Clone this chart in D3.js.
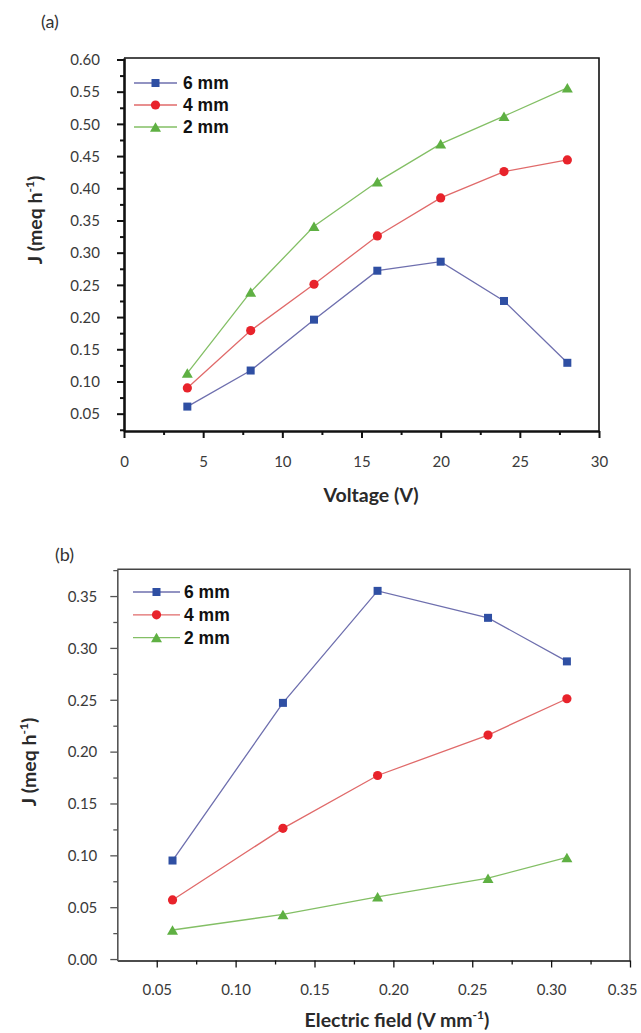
<!DOCTYPE html>
<html>
<head>
<meta charset="utf-8">
<script src="https://cdn.jsdelivr.net/npm/d3@7"></script>
<style>
  html, body { margin: 0; padding: 0; background: #fff; }
  svg { display: block; }
  .tick-label { font-family: Lato, "Open Sans", sans-serif; font-size: 15px; fill: #3a3a3a; }
  .axis-title { font-family: Lato, "Open Sans", sans-serif; font-weight: bold; font-size: 19.5px; fill: #2a2a2a; }
  .legend-text { font-family: "Liberation Sans", Arial, sans-serif; font-weight: bold; font-size: 17.5px; fill: #111; }
  .panel-label { font-family: Lato, "Open Sans", sans-serif; font-size: 18px; fill: #333; }
</style>
</head>
<body>
<svg id="chart" width="641" height="1033"></svg>
<script>
// Flux J versus applied voltage, for three electrode gaps
const voltage = [4, 8, 12, 16, 20, 24, 28];
const voltJ6mm = [0.061, 0.117, 0.196, 0.272, 0.286, 0.225, 0.129];
const voltJ4mm = [0.090, 0.179, 0.251, 0.326, 0.385, 0.426, 0.444];
const voltJ2mm = [0.113, 0.239, 0.341, 0.410, 0.469, 0.512, 0.556];

// Flux J versus electric field strength
const field = [0.06, 0.13, 0.19, 0.26, 0.31];
const fieldJ6mm = [0.095, 0.247, 0.355, 0.329, 0.287];
const fieldJ4mm = [0.057, 0.126, 0.177, 0.216, 0.251];
const fieldJ2mm = [0.028, 0.043, 0.060, 0.078, 0.098];

const seriesNames = ["6 mm", "4 mm", "2 mm"];
const voltXTicks = [0, 5, 10, 15, 20, 25, 30];
const voltYTicks = [0.05, 0.10, 0.15, 0.20, 0.25, 0.30, 0.35, 0.40, 0.45, 0.50, 0.55, 0.60];
const fieldXTicks = [0.05, 0.10, 0.15, 0.20, 0.25, 0.30, 0.35];
const fieldYTicks = [0.00, 0.05, 0.10, 0.15, 0.20, 0.25, 0.30, 0.35];

const styles = [
  { marker: "square",   fill: "#2f4fa3", stroke: "#6e6fae" },
  { marker: "circle",   fill: "#e8232b", stroke: "#e06a6a" },
  { marker: "triangle", fill: "#5fb043", stroke: "#83bf65" }
];

const svg = d3.select("#chart");

function drawMarker(g, kind, x, y, fill) {
  if (kind === "square") {
    g.append("rect").attr("x", x - 4).attr("y", y - 4).attr("width", 8).attr("height", 8).attr("fill", fill);
  } else if (kind === "circle") {
    g.append("circle").attr("cx", x).attr("cy", y).attr("r", 4.6).attr("fill", fill);
  } else {
    const w = 11, h = 9.5;
    g.append("path")
      .attr("d", `M${x},${y - h / 2}L${x + w / 2},${y + h / 2}L${x - w / 2},${y + h / 2}Z`)
      .attr("fill", fill);
  }
}

function drawPanel(cfg) {
  const g = svg.append("g");
  const x = d3.scaleLinear().domain(cfg.xDomain).range([cfg.left, cfg.right]);
  const y = d3.scaleLinear().domain(cfg.yDomain).range([cfg.bottom, cfg.top]);

  // frame (top and right edges)
  g.append("path")
    .attr("d", `M${cfg.left},${cfg.top}H${cfg.right}V${cfg.bottom}`)
    .attr("fill", "none").attr("stroke", cfg.frameColor).attr("stroke-width", cfg.frameWidth);

  // x axis: major ticks with labels, minor ticks between
  const xAxis = d3.axisBottom(x).tickValues(cfg.xTicks).tickSize(cfg.majorTick).tickSizeOuter(0)
    .tickFormat(cfg.xFormat);
  const xa = g.append("g").attr("transform", `translate(0,${cfg.bottom})`).call(xAxis);
  xa.select(".domain").attr("stroke", cfg.xAxisColor).attr("stroke-width", cfg.axisWidth);
  xa.selectAll(".tick line").attr("stroke", cfg.xAxisColor).attr("stroke-width", cfg.tickWidth);
  xa.selectAll(".tick text").attr("class", "tick-label").attr("y", cfg.xLabelOffset).attr("dy", 0);
  // keep the last label inside the page edge
  xa.selectAll(".tick:last-of-type text").attr("dx", cfg.lastLabelShift || 0);
  const xMinor = d3.axisBottom(x).tickValues(cfg.xMinor).tickSize(cfg.minorTick).tickSizeOuter(0).tickFormat("");
  const xm = g.append("g").attr("transform", `translate(0,${cfg.bottom})`).call(xMinor);
  xm.select(".domain").remove();
  xm.selectAll(".tick line").attr("stroke", cfg.xAxisColor).attr("stroke-width", cfg.tickWidth);

  // y axis
  const yAxis = d3.axisLeft(y).tickValues(cfg.yTicks).tickSize(cfg.majorTick).tickSizeOuter(0)
    .tickFormat(d3.format(".2f"));
  const ya = g.append("g").attr("transform", `translate(${cfg.left},0)`).call(yAxis);
  ya.select(".domain").attr("stroke", cfg.yAxisColor).attr("stroke-width", cfg.axisWidth);
  ya.selectAll(".tick line").attr("stroke", cfg.yAxisColor).attr("stroke-width", cfg.tickWidth);
  ya.selectAll(".tick text").attr("class", "tick-label").attr("x", -cfg.yLabelGap).attr("dy", "0.35em");
  const yMinor = d3.axisLeft(y).tickValues(cfg.yMinor).tickSize(cfg.minorTick).tickSizeOuter(0).tickFormat("");
  const ym = g.append("g").attr("transform", `translate(${cfg.left},0)`).call(yMinor);
  ym.select(".domain").remove();
  ym.selectAll(".tick line").attr("stroke", cfg.yAxisColor).attr("stroke-width", cfg.tickWidth);

  // lines and markers
  const line = d3.line().x(d => x(d[0])).y(d => y(d[1]));
  cfg.series.forEach((vals, i) => {
    const pts = cfg.xs.map((xv, k) => [xv, vals[k]]);
    g.append("path").datum(pts).attr("d", line)
      .attr("fill", "none").attr("stroke", styles[i].stroke).attr("stroke-width", 1.3);
  });
  cfg.series.forEach((vals, i) => {
    const mg = g.append("g");
    cfg.xs.forEach((xv, k) => drawMarker(mg, styles[i].marker, x(xv), y(vals[k]), styles[i].fill));
  });

  // legend
  seriesNames.forEach((name, i) => {
    const ly = cfg.legendY + i * cfg.legendStep;
    g.append("line").attr("x1", cfg.legendX0).attr("x2", cfg.legendX1).attr("y1", ly).attr("y2", ly)
      .attr("stroke", styles[i].stroke).attr("stroke-width", 1.3);
    drawMarker(g, styles[i].marker, (cfg.legendX0 + cfg.legendX1) / 2, ly, styles[i].fill);
    g.append("text").attr("class", "legend-text").attr("x", cfg.legendTextX).attr("y", ly + 6.3).text(name);
  });

  // axis titles
  g.append("text").attr("class", "axis-title").attr("text-anchor", "middle")
    .attr("x", cfg.xTitleX).attr("y", cfg.xTitleY)
    .call(t => cfg.xTitle(t));
  const yt = g.append("text").attr("class", "axis-title").attr("text-anchor", "middle")
    .attr("transform", `translate(${cfg.yTitleX},${cfg.yTitleY}) rotate(-90)`);
  yt.append("tspan").text("J (meq h");
  yt.append("tspan").attr("font-size", "12px").attr("dy", -8).text("-1");
  yt.append("tspan").attr("dy", 8).text(")");

  g.append("text").attr("class", "panel-label").attr("x", cfg.panelX).attr("y", cfg.panelY).text(cfg.panel);
}

const minorBetween = (a, b, step) => d3.range(a, b + step / 2, step).map(v => +v.toFixed(4));

drawPanel({
  panel: "(a)", panelX: 41, panelY: 28,
  xDomain: [0, 30], yDomain: [0.0231, 0.6023],
  left: 124, right: 599, top: 58, bottom: 431,
  xs: voltage, series: [voltJ6mm, voltJ4mm, voltJ2mm],
  xTicks: voltXTicks, xMinor: minorBetween(2.5, 27.5, 5), xFormat: d3.format("d"),
  yTicks: voltYTicks, yMinor: minorBetween(0.025, 0.575, 0.05),
  majorTick: 7, minorTick: 4, tickWidth: 2, axisWidth: 2.6,
  frameColor: "#111", frameWidth: 1.6, xAxisColor: "#111", yAxisColor: "#111",
  xLabelOffset: 36, yLabelGap: 24,
  legendX0: 134, legendX1: 177, legendTextX: 183, legendY: 83, legendStep: 22,
  xTitleX: 371, xTitleY: 502,
  xTitle: t => t.text("Voltage (V)"),
  yTitleX: 42, yTitleY: 220
});

drawPanel({
  panel: "(b)", panelX: 55, panelY: 561,
  xDomain: [0.025, 0.35], yDomain: [-0.0014, 0.3758],
  left: 117.3, right: 630, top: 569.3, bottom: 960.5,
  xs: field, series: [fieldJ6mm, fieldJ4mm, fieldJ2mm],
  xTicks: fieldXTicks, xMinor: minorBetween(0.075, 0.325, 0.05), xFormat: d3.format(".2f"),
  yTicks: fieldYTicks, yMinor: minorBetween(0.025, 0.375, 0.05),
  majorTick: 7, minorTick: 4, tickWidth: 1.3, axisWidth: 1.6,
  frameColor: "#444", frameWidth: 1.4, xAxisColor: "#111", yAxisColor: "#555",
  xLabelOffset: 34, yLabelGap: 20, lastLabelShift: -8,
  legendX0: 133, legendX1: 180, legendTextX: 184, legendY: 592, legendStep: 22.8,
  xTitleX: 397, xTitleY: 1027,
  xTitle: t => {
    t.append("tspan").text("Electric field (V mm");
    t.append("tspan").attr("font-size", "12px").attr("dy", -8).text("-1");
    t.append("tspan").attr("dy", 8).text(")");
  },
  yTitleX: 36, yTitleY: 762
});
</script>
</body>
</html>
